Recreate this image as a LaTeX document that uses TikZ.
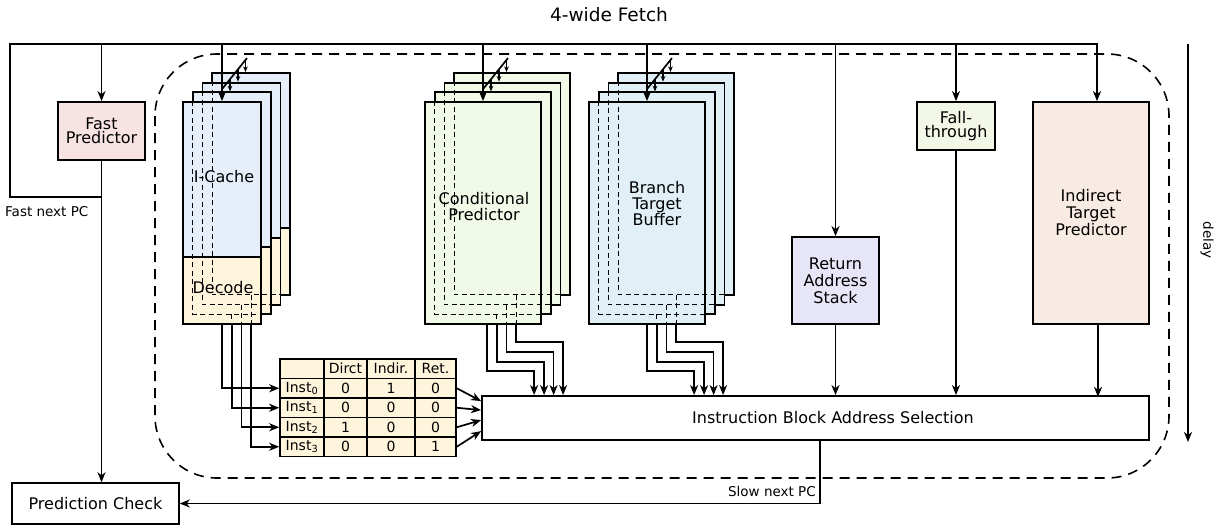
\documentclass[tikz,border=0pt]{standalone}
\usepackage{fontspec}
\setmainfont{DejaVu Sans}
\usetikzlibrary{arrows.meta,calc}
\definecolor{cblue}{HTML}{E6EEF9}
\definecolor{cyel}{HTML}{FFF5DC}
\definecolor{cgreen}{HTML}{F0FAE7}
\definecolor{ccyan}{HTML}{E0F0F6}
\definecolor{clav}{HTML}{E6E6F8}
\definecolor{cfall}{HTML}{F3F7E5}
\definecolor{cpeach}{HTML}{F8EBE3}
\definecolor{cpink}{HTML}{F8E3E3}
\newcommand\fsz[2]{\fontsize{#1}{#2}\selectfont}
\tikzset{
  blk/.style={draw, line width=1.8pt, inner sep=0pt, align=center, font=\fsz{16}{16}},
  wire/.style={line width=1.7pt},
  conn/.style={wire, -{Stealth[length=10pt,width=8pt,inset=3pt]}},
  smallarr/.style={line width=1.3pt, -{Stealth[length=5.5pt,width=4.5pt,inset=1.5pt]}},
  hid/.style={line width=1pt, dash pattern=on 5pt off 3.5pt},
  lyr/.style={draw, line width=1.8pt},
  cell/.style={draw, line width=1.6pt, fill=cyel, inner sep=0pt, minimum height=19.5pt, font=\fsz{14}{14}},
  lbl/.style={inner sep=0pt, font=\fsz{13.5}{14}},
  txt/.style={inner sep=0pt, align=center, font=\fsz{16}{16}},
}
\newcommand\busarrows[1]{%
  \draw[wire] ($(#1.north)+(0,-12)$) -- ($(#1.north)+(25,-43)$);
  \draw[smallarr] ($(#1.north)+(8,-22)$) -- ($(#1.north)+(8,-9.7)$);
  \draw[smallarr] ($(#1.north)+(16,-32)$) -- ($(#1.north)+(16,-19.4)$);
  \draw[smallarr] ($(#1.north)+(23.5,-41.5)$) -- ($(#1.north)+(23.5,-29.1)$);
}
\newcommand\tabrow[5]{%
  \node[cell, minimum width=44pt] (t-#1-0) at (302,{368.75+#1*19.5}) {#2};
  \node[cell, minimum width=43pt] (t-#1-1) at (345.5,{368.75+#1*19.5}) {#3};
  \node[cell, minimum width=48pt] (t-#1-2) at (391,{368.75+#1*19.5}) {#4};
  \node[cell, minimum width=41pt] (t-#1-3) at (435.5,{368.75+#1*19.5}) {#5};
}
\begin{document}
\begin{tikzpicture}[x=1pt,y=-1pt]
\useasboundingbox (0,0) rectangle (1219,531);

% dashed region
\draw[line width=1.6pt, dash pattern=on 10pt off 7pt, rounded corners=62pt] (155,54) rectangle (1169,478);

\node[font=\fsz{18.5}{18}, inner sep=0pt] (title) at (609,15) {4-wide Fetch};

% ---------- I-Cache / Decode stack ----------
\foreach \k in {3,2,1}{
  \draw[lyr, fill=cblue] ({183+\k*9.7},{102-\k*9.7}) rectangle ({261+\k*9.7},{324-\k*9.7});
  \draw[lyr, fill=cyel] ({183+\k*9.7},{257-\k*9.7}) rectangle ({261+\k*9.7},{324-\k*9.7});
}
\node[blk, fill=cblue, minimum width=78pt, minimum height=155pt] (ic) at (222,179.5) {};
\node[blk, fill=cyel, minimum width=78pt, minimum height=67pt] (dec) at (222,290.5) {};
\node[txt] (ictxt) at (224,177) {I-Cache};
\node[txt] (dectxt) at (223,288) {Decode};
\foreach \k in {1,2,3}{
  \draw[hid] ({183+\k*9.7},{102-\k*9.7}) -- ({183+\k*9.7},{324-\k*9.7}) -- ({261+\k*9.7},{324-\k*9.7});
  \draw[hid] ({222+\k*9.7},{324-\k*9.7}) -- ({222+\k*9.7},324);
}

% ---------- Conditional predictor stack ----------
\foreach \k in {3,2,1}{
  \draw[lyr, fill=cgreen] ({425+\k*9.7},{102-\k*9.7}) rectangle ({541+\k*9.7},{324-\k*9.7});
}
\node[blk, fill=cgreen, minimum width=116pt, minimum height=222pt] (cp) at (483,213) {};
\node[txt] (cptxt) at (484,207) {Conditional\\Predictor};
\foreach \k in {1,2,3}{
  \draw[hid] ({425+\k*9.7},{102-\k*9.7}) -- ({425+\k*9.7},{324-\k*9.7}) -- ({541+\k*9.7},{324-\k*9.7});
  \draw[hid] ({487+\k*9.7},{324-\k*9.7}) -- ({487+\k*9.7},324);
}

% ---------- BTB stack ----------
\foreach \k in {3,2,1}{
  \draw[lyr, fill=ccyan] ({589+\k*9.7},{102-\k*9.7}) rectangle ({705+\k*9.7},{324-\k*9.7});
}
\node[blk, fill=ccyan, minimum width=116pt, minimum height=222pt] (btb) at (647,213) {};
\node[txt] (btbtxt) at (657,204) {Branch\\Target\\Buffer};
\foreach \k in {1,2,3}{
  \draw[hid] ({589+\k*9.7},{102-\k*9.7}) -- ({589+\k*9.7},{324-\k*9.7}) -- ({705+\k*9.7},{324-\k*9.7});
  \draw[hid] ({647+\k*9.7},{324-\k*9.7}) -- ({647+\k*9.7},324);
}

% ---------- other blocks ----------
\node[blk, fill=cpink, minimum width=87pt, minimum height=58pt, font=\fsz{16}{14.5}] (fp) at (101.5,131) {Fast\\Predictor};
\node[blk, fill=clav, minimum width=87pt, minimum height=87pt, font=\fsz{16}{17}] (ras) at (835.5,280.5) {Return\\Address\\Stack};
\node[blk, fill=cfall, minimum width=78pt, minimum height=48pt, font=\fsz{16}{14.5}] (ft) at (956,126) {Fall-\\through};
\node[blk, fill=cpeach, minimum width=116pt, minimum height=222pt, font=\fsz{16}{17}] (itp) at (1091,213) {Indirect\\Target\\Predictor};
\node[blk, fill=white, minimum width=667pt, minimum height=44pt] (ibas) at (815.5,418) {};
\node[txt] (ibastxt) at (833,418) {Instruction Block Address Selection};
\node[draw, line width=1.5pt, minimum width=167pt, minimum height=41pt, inner sep=0pt, font=\fsz{16}{16}] (pc) at (95.5,503.5) {Prediction Check};

% ---------- table ----------
\tabrow{0}{}{Dirct}{Indir.}{Ret.}
\tabrow{1}{Inst\textsubscript{0}}{0}{1}{0}
\tabrow{2}{Inst\textsubscript{1}}{0}{0}{0}
\tabrow{3}{Inst\textsubscript{2}}{1}{0}{0}
\tabrow{4}{Inst\textsubscript{3}}{0}{0}{1}

% ---------- top feed ----------
\coordinate (fnpc) at (101.5,197);
\coordinate (tl) at (10,44);
\coordinate (tr) at (1097,44);
\draw[wire] (fnpc) -| (tl) -- (tr);
\draw[conn] (fp.north |- tl) -- (fp.north);
\draw[conn] (ic.north |- tl) -- (ic.north);
\draw[conn] (cp.north |- tl) -- (cp.north);
\draw[conn] (btb.north |- tl) -- (btb.north);
\draw[conn] (ras.north |- tl) -- (ras.north);
\draw[conn] (ft.north |- tl) -- (ft.north);
\draw[conn] ($(itp.north)+(6,-58)$) -- ($(itp.north)+(6,0)$);
\busarrows{ic}
\busarrows{cp}
\busarrows{btb}

% ---------- fast path ----------
\draw[conn] (fp.south) -- (fp.south |- pc.north);
\node[lbl, anchor=west] (fnl) at (5,212) {Fast next PC};

% ---------- decode outputs to table ----------
\draw[conn] (dec.south) |- (t-1-0.west);
\draw[conn] ($(dec.south)+(9.7,0)$) |- (t-2-0.west);
\draw[conn] ($(dec.south)+(19.4,0)$) |- (t-3-0.west);
\draw[conn] ($(dec.south)+(29.1,0)$) |- (t-4-0.west);

% ---------- table to selection ----------
\draw[conn] (t-1-3.east) -- ($(ibas.north west)+(0,6)$);
\draw[conn] (t-2-3.east) -- ($(ibas.north west)+(0,15)$);
\draw[conn] (t-3-3.east) -- ($(ibas.north west)+(0,25)$);
\draw[conn] (t-4-3.east) -- ($(ibas.north west)+(0,36)$);

% ---------- predictors to selection ----------
\draw[conn] ($(cp.south)+(4,0)$) |- ($(ibas.north west)+(53,-24)$) -- ($(ibas.north west)+(53,0)$);
\draw[conn] ($(cp.south)+(13.7,0)$) |- ($(ibas.north west)+(63,-33)$) -- ($(ibas.north west)+(63,0)$);
\draw[conn] ($(cp.south)+(23.4,0)$) |- ($(ibas.north west)+(72.5,-43)$) -- ($(ibas.north west)+(72.5,0)$);
\draw[conn] ($(cp.south)+(33.1,0)$) |- ($(ibas.north west)+(82,-53)$) -- ($(ibas.north west)+(82,0)$);

\draw[conn] (btb.south) |- ($(ibas.north west)+(213,-24)$) -- ($(ibas.north west)+(213,0)$);
\draw[conn] ($(btb.south)+(9.7,0)$) |- ($(ibas.north west)+(223,-33)$) -- ($(ibas.north west)+(223,0)$);
\draw[conn] ($(btb.south)+(19.4,0)$) |- ($(ibas.north west)+(232.5,-43)$) -- ($(ibas.north west)+(232.5,0)$);
\draw[conn] ($(btb.south)+(29.1,0)$) |- ($(ibas.north west)+(242,-53)$) -- ($(ibas.north west)+(242,0)$);

\draw[conn] (ras.south) -- (ras.south |- ibas.north);
\draw[conn] (ft.south) -- (ft.south |- ibas.north);
\draw[conn] ($(itp.south)+(7,0)$) -- ($(itp.south)+(7,72)$);

% ---------- slow path ----------
\draw[conn] ($(ibas.south west)+(339,0)$) |- (pc.east);
\node[lbl, anchor=east] (snl) at (816,491) {Slow next PC};

% ---------- delay ----------
\coordinate (d0) at (1188,44);
\coordinate (d1) at (1188,442);
\draw[conn] (d0) -- (d1);
\node[lbl, rotate=-90] (delay) at (1207,240) {delay};
\end{tikzpicture}
\end{document}
